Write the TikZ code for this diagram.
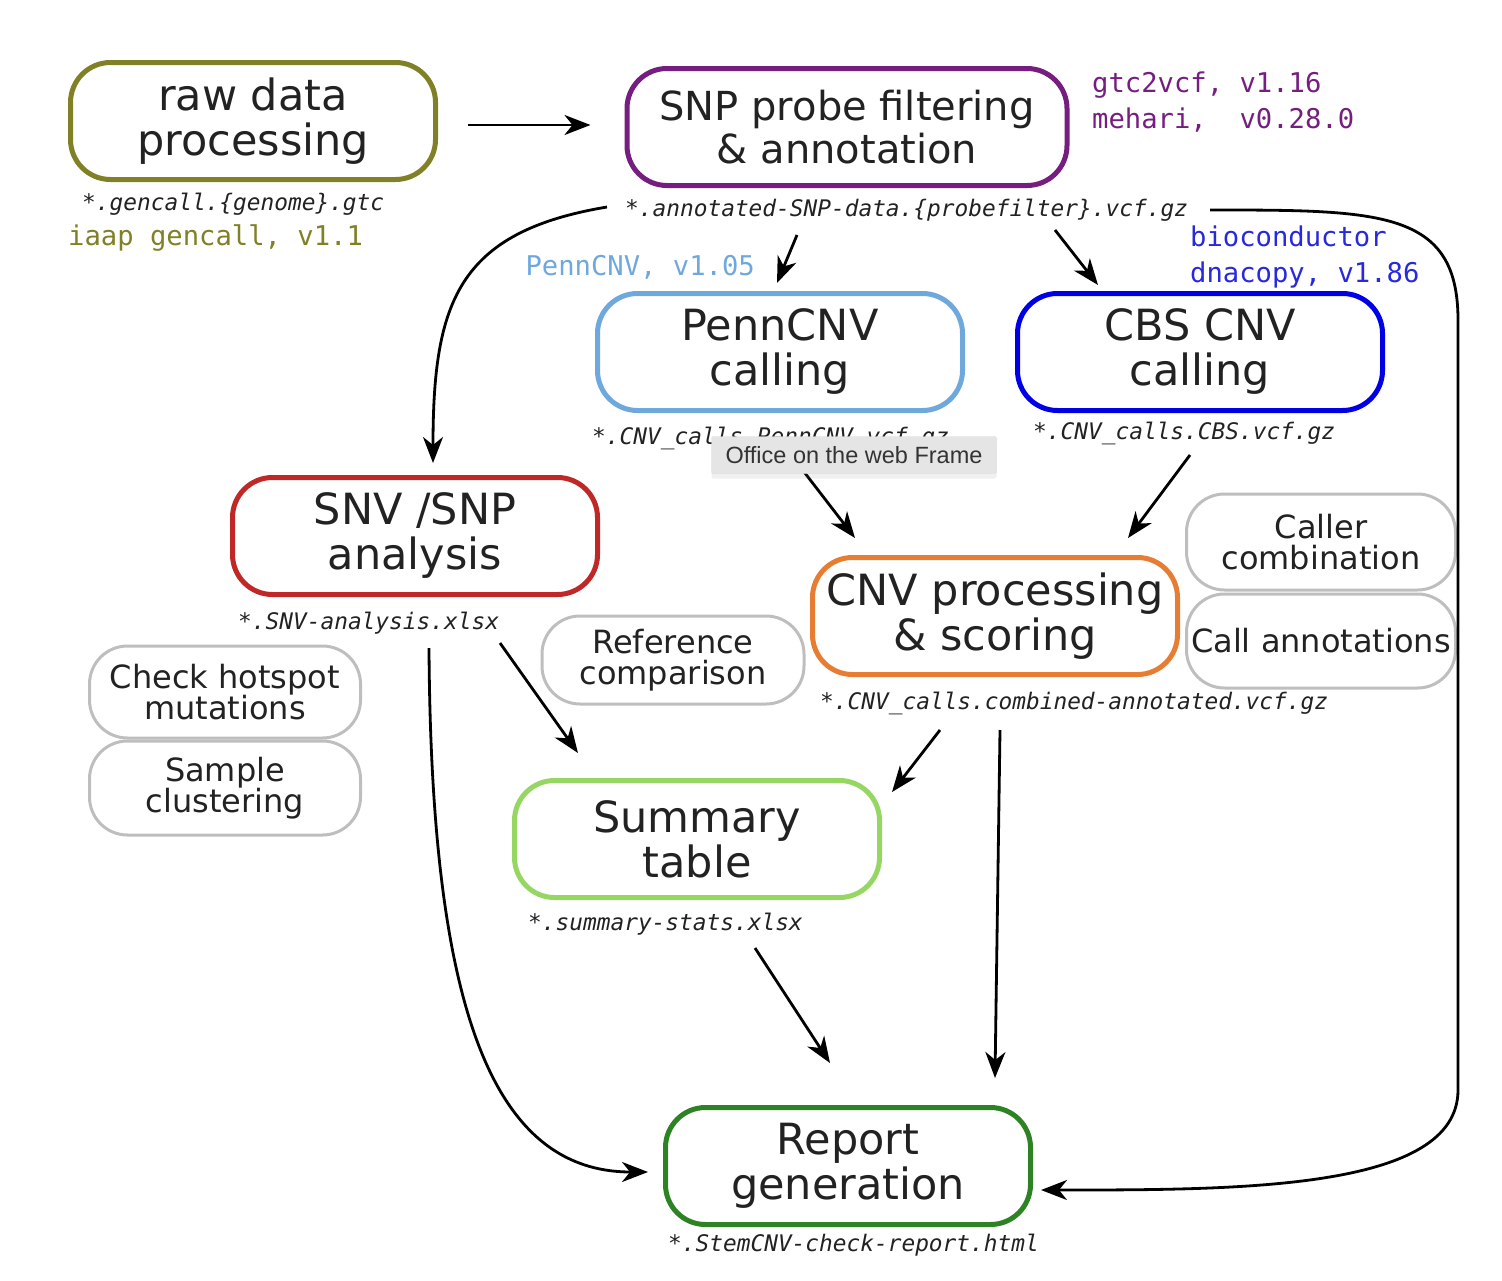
\documentclass[tikz,border=0pt]{standalone}
\usepackage{fontspec}
\setmainfont{DejaVu Sans}
\setmonofont{DejaVu Sans Mono}
\newfontfamily\tipfont{Liberation Sans}
\usetikzlibrary{arrows.meta,shadows}
\definecolor{ink}{RGB}{34,34,34}
\definecolor{rawcol}{RGB}{128,128,38}
\definecolor{snpcol}{RGB}{118,30,128}
\definecolor{penncol}{RGB}{111,168,220}
\definecolor{cbscol}{RGB}{0,0,230}
\definecolor{snvcol}{RGB}{192,40,40}
\definecolor{cnvcol}{RGB}{230,125,50}
\definecolor{sumcol}{RGB}{150,215,100}
\definecolor{repcol}{RGB}{45,130,35}
\definecolor{sidecol}{RGB}{190,190,190}
\definecolor{cbstool}{RGB}{40,40,220}

\begin{document}
\begin{tikzpicture}[x=1pt,y=-1pt,
  box/.style={draw,rounded corners=40pt,line width=5pt,minimum width=365pt,minimum height=117pt,align=center,text=ink,font=\fontsize{43}{45}\selectfont},
  side/.style={draw=sidecol,rounded corners=38pt,line width=3pt,align=center,text=ink,font=\fontsize{32}{31}\selectfont},
  file/.style={anchor=west,inner sep=0pt,text=ink,font=\ttfamily\itshape\fontsize{22.8}{24}\selectfont},
  tool/.style={inner sep=0pt,align=left,font=\ttfamily\fontsize{27.2}{36}\selectfont},
  arr/.style={-{Stealth[length=26pt,width=20pt,inset=8pt]},line width=2.8pt}]
  \useasboundingbox (0,0) rectangle (1502,1280);
  \node[box,draw=rawcol] (raw) at (253,121) {raw data\\processing};
  \node[box,draw=snpcol,minimum width=440pt,font=\fontsize{40}{43}\selectfont] (snp) at (847,127) {SNP probe filtering\\\& annotation};
  \node[box,draw=penncol] (penn) at (780,352) {PennCNV\\calling};
  \node[box,draw=cbscol] (cbs) at (1200,352) {CBS CNV\\calling};
  \node[box,draw=snvcol] (snv) at (415,536) {SNV /SNP\\analysis};
  \node[box,draw=cnvcol] (cnv) at (995,616) {CNV processing\\\& scoring};
  \node[box,draw=sumcol] (summary) at (697,839) {Summary\\table};
  \node[box,draw=repcol] (report) at (848,1166) {Report\\generation};
  \node[side,minimum width=269pt,minimum height=96pt] (caller) at (1321,542) {Caller\\combination};
  \node[side,minimum width=269pt,minimum height=94pt] (callann) at (1321,641) {Call annotations};
  \node[side,minimum width=262pt,minimum height=88pt] (refcomp) at (673,660) {Reference\\comparison};
  \node[side,minimum width=271pt,minimum height=92pt] (hotspot) at (225,692) {Check hotspot\\mutations};
  \node[side,minimum width=271pt,minimum height=94pt] (cluster) at (225,788) {Sample\\clustering};
  \node[file] (rawfile) at (82,204) {*.gencall.\{genome\}.gtc};
  \node[file] (snpfile) at (625,210) {*.annotated-SNP-data.\{probefilter\}.vcf.gz};
  \node[file] (pennfile) at (592,438) {*.CNV\_calls.PennCNV.vcf.gz};
  \node[file] (cbsfile) at (1033,433) {*.CNV\_calls.CBS.vcf.gz};
  \node[file] (snvfile) at (238,623) {*.SNV-analysis.xlsx};
  \node[file] (cnvfile) at (820,703) {*.CNV\_calls.combined-annotated.vcf.gz};
  \node[file] (sumfile) at (528,924) {*.summary-stats.xlsx};
  \node[file] (repfile) at (668,1245) {*.StemCNV-check-report.html};
  \node[tool,anchor=west,text=rawcol] (rawtool) at (68,238) {iaap gencall, v1.1};
  \node[tool,anchor=west,text=snpcol] (snptool) at (1092,102) {gtc2vcf, v1.16\\mehari,\ \ v0.28.0};
  \node[tool,anchor=east,text=penncol] (penntool) at (755,267) {PennCNV, v1.05};
  \node[tool,anchor=west,text=cbstool] (cbstool) at (1190,257) {bioconductor\\dnacopy, v1.86};
  \coordinate (railtop) at (1458,320);
  \coordinate (railbot) at (1458,1090);
  \draw[arr] ([shift={(30,4)}]raw.east) -- ([shift={(-34,-2)}]snp.west);
  \draw[arr] ([shift={(-18,-3)}]snpfile.west) .. controls +(-150,25) and +(0,-160) .. ([shift={(18,-12)}]snv.north);
  \draw[arr] ([shift={(172,25)}]snpfile.west) -- ([shift={(-3,-8)}]penn.north);
  \draw[arr] ([shift={(430,20)}]snpfile.west) -- ([shift={(-102,-6)}]cbs.north);
  \draw[arr] ([shift={(22,0)}]snpfile.east) .. controls +(170,0) and +(0,-110) .. (railtop) -- (railbot)
    .. controls +(0,100) and +(200,0) .. ([shift={(8,24)}]report.east);
  \draw[arr] ([shift={(199,17)}]pennfile.west) -- ([shift={(-140,-17)}]cnv.north);
  \draw[arr] ([shift={(157,22)}]cbsfile.west) -- ([shift={(133,-17)}]cnv.north);
  \draw[arr] ([shift={(262,20)}]snvfile.west) -- ([shift={(-119,-25)}]summary.north);
  \draw[arr] ([shift={(120,27)}]cnvfile.west) -- ([shift={(10,-47)}]summary.east);
  \draw[arr] ([shift={(191,25)}]snvfile.west) .. controls +(2,350) and +(-160,0) .. ([shift={(-15,6)}]report.west);
  \draw[arr] ([shift={(227,24)}]sumfile.west) -- ([shift={(-18,-42)}]report.north);
  \draw[arr] ([shift={(180,27)}]cnvfile.west) -- ([shift={(147,-27)}]report.north);
  \node[draw=black!15,fill=black!10,rounded corners=2pt,drop shadow={opacity=0.12,shadow xshift=0pt,shadow yshift=-5pt},minimum width=285pt,minimum height=37pt,text=black!80,font=\tipfont\fontsize{23.5}{26}\selectfont] (frame) at (854,455) {Office on the web Frame};
\end{tikzpicture}
\end{document}
